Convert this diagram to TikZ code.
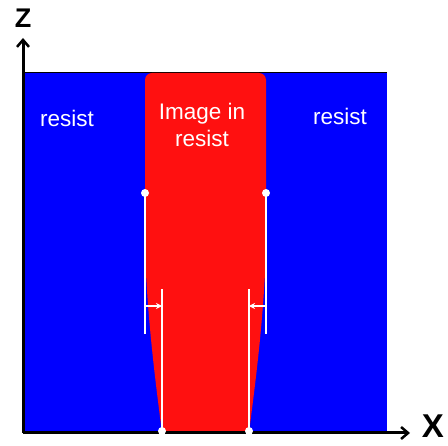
\documentclass[tikz,border=0pt]{standalone}
\usepackage{fontspec}
\setmainfont{Liberation Sans}
\usetikzlibrary{arrows.meta}
\definecolor{resistblue}{RGB}{0,0,255}
\definecolor{imagered}{RGB}{255,16,16}
\tikzset{
  axis/.style={line width=3pt, -{Straight Barb[length=7pt, width=12pt, line width=2.5pt]}},
  mark line/.style={white, line width=1.5pt},
  mark dot/.style={circle, fill=white, inner sep=0pt, minimum size=8pt},
  dim arrow/.style={white, line width=1.2pt, -{Stealth[length=6pt, width=6pt]}},
  label text/.style={white, font=\fontsize{22.5}{27}\selectfont, align=center}
}
\begin{document}
\begin{tikzpicture}[x=1pt, y=-1pt]
    \useasboundingbox (0,0) rectangle (448,446);
    % resist block
    \fill[resistblue] (23,73) rectangle (387,433);
    \draw[line width=1pt] (23,73) -- (387,73);

    % image in resist (red profile)
    \fill[imagered, rounded corners=7pt] (162,433) .. controls (158,400) and (148,330) .. (145,250)
        -- (145,73) -- (266,73) -- (266,250)
        .. controls (263,330) and (253,400) .. (249,433) [sharp corners] -- cycle;

    % axes
    \coordinate (O) at (23,433);
    \coordinate (zend) at (23,38);
    \coordinate (xend) at (410,433);
    \draw[axis] (O) -- (zend);
    \draw[axis] (O) -- (xend);
    \node[font=\fontsize{27}{27}\selectfont\bfseries] (zlab) at (23,18) {Z};
    \node[font=\fontsize{33}{33}\selectfont\bfseries, inner sep=1pt] (xlab) at (433,426) {X};

    % labels
    \node[label text] (resistL) at (67,118) {resist};
    \node[label text] (resistR) at (340,116) {resist};
    \node[label text] (image) at (202,125) {Image in\\resist};

    % top width markers
    \node[mark dot] (topL) at (145,193) {};
    \node[mark dot] (topR) at (266,193) {};
    \coordinate (topLend) at (145,334);
    \coordinate (topRend) at (266,334);
    \draw[mark line] (topL.center) -- (topLend);
    \draw[mark line] (topR.center) -- (topRend);

    % bottom width markers
    \node[mark dot] (botL) at (162,431) {};
    \node[mark dot] (botR) at (249,431) {};
    \coordinate (botLend) at (162,289);
    \coordinate (botRend) at (249,289);
    \draw[mark line] (botL.center) -- (botLend);
    \draw[mark line] (botR.center) -- (botRend);

    % shrink arrows
    \coordinate (arrLa) at (145,306);
    \coordinate (arrLb) at (162,306);
    \coordinate (arrRa) at (266,306);
    \coordinate (arrRb) at (249,306);
    \draw[dim arrow] (arrLa) -- (arrLb);
    \draw[dim arrow] (arrRa) -- (arrRb);
\end{tikzpicture}
\end{document}
